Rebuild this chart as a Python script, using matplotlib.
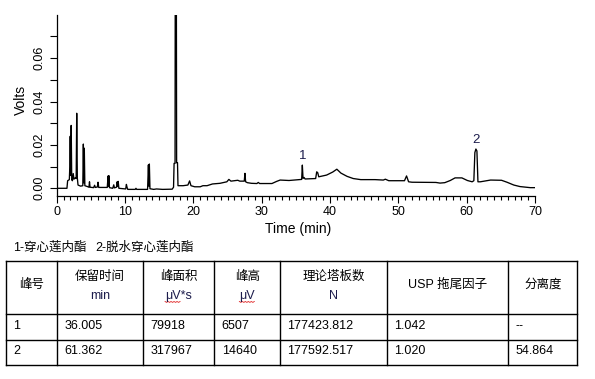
import matplotlib
matplotlib.use("Agg")
import matplotlib.pyplot as plt
from matplotlib.ticker import MultipleLocator, FormatStrFormatter
import numpy as np

plt.rcParams['font.family'] = ['Liberation Sans', 'Noto Sans CJK SC']

# chromatogram trace (min, volts)
time_min = [0.0, 1.5, 1.6, 1.85, 1.92, 1.98, 2.05, 2.12, 2.2, 2.3, 2.42, 2.52, 2.7, 2.85,
            2.93, 3.02, 3.12, 3.5, 3.82, 3.9, 3.97, 4.04, 4.12, 4.5, 4.72, 4.8, 4.88, 5.4,
            5.55, 5.65, 5.95, 6.05, 6.15, 7.4, 7.52, 7.58, 7.64, 7.72, 8.2, 8.35, 8.45,
            8.75, 8.85, 8.95, 9.0, 9.1, 10.1, 10.2, 10.3, 10.4, 11.5, 11.6, 11.7, 13.3,
            13.42, 13.5, 13.56, 13.65, 14.2, 14.6, 15.5, 16.9, 17.1, 17.18, 17.32, 17.42,
            17.55, 17.68, 17.75, 18.5, 19.2, 19.45, 19.65, 20.2, 21.0, 21.4, 22.0, 22.8,
            23.9, 24.9, 25.2, 25.5, 26.0, 26.5, 26.8, 27.45, 27.55, 27.65, 27.9, 28.5,
            29.3, 29.5, 29.7, 31.5, 32.2, 32.7, 34.0, 35.6, 35.85, 35.95, 36.05, 36.2,
            36.35, 37.9, 38.05, 38.2, 38.35, 39.5, 40.4, 41.0, 41.6, 42.5, 43.4, 44.5,
            46.6, 47.8, 48.1, 48.6, 50.9, 51.2, 51.5, 52.0, 55.5, 56.1, 56.8, 57.6, 58.3,
            59.3, 60.1, 60.8, 61.05, 61.2, 61.35, 61.5, 61.65, 62.0, 63.5, 65.1, 65.9,
            66.9, 67.8, 69.3, 70.0]
volts = [0.0, 0.0, 0.0035, 0.004, 0.010, 0.024, 0.006, 0.029, 0.004, 0.0035, 0.0068, 0.0042,
         0.0048, 0.0045, 0.0346, 0.0047, 0.0015, 0.0010, 0.0012, 0.0204, 0.0025, 0.0185,
         0.0012, 0.0008, 0.0005, 0.003, 0.0005, 0.0003, 0.0014, 0.0004, 0.0006, 0.0028,
         0.0004, 0.0004, 0.0057, 0.001, 0.0058, 0.0003, 0.0, 0.0016, 0.0002, 0.0005, 0.003,
         0.0008, 0.0032, 0.0, -0.0003, 0.0018, 0.0004, -0.0005, -0.0005, 0.0, -0.0005,
         -0.0005, 0.0108, 0.001, 0.0112, -0.0002, -0.0005, -0.0003, -0.0005, -0.0004,
         0.0005, 0.0115, 0.0115, 0.3, 0.0118, 0.0118, 0.0012, 0.0012, 0.0015, 0.0034,
         0.0012, 0.0007, 0.0007, 0.0012, 0.0012, 0.002, 0.0023, 0.003, 0.0041, 0.0033,
         0.0035, 0.0037, 0.0033, 0.0033, 0.0069, 0.003, 0.0026, 0.0023, 0.0022, 0.0027,
         0.0022, 0.0022, 0.0032, 0.0038, 0.0036, 0.0040, 0.0041, 0.0107, 0.0046, 0.005,
         0.0043, 0.0045, 0.0076, 0.0072, 0.0053, 0.0061, 0.0075, 0.0088, 0.0070, 0.0055,
         0.0045, 0.0040, 0.0040, 0.0038, 0.0042, 0.0035, 0.0035, 0.0057, 0.0030, 0.0028,
         0.0027, 0.0024, 0.0026, 0.0036, 0.0048, 0.0048, 0.0036, 0.0030, 0.0035, 0.0165,
         0.0181, 0.0172, 0.003, 0.0030, 0.0038, 0.0037, 0.0028, 0.0015, 0.0008, 0.0003,
         0.0003]

peak_labels = ['1', '2']
peak_times = [35.95, 61.35]
peak_tops = [0.0107, 0.0181]

legend_items = ['1-穿心莲内酯', '2-脱水穿心莲内酯']

headers = ['峰号', '保留时间', '峰面积', '峰高', '理论塔板数', 'USP 拖尾因子', '分离度']
units = ['', 'min', 'μV*s', 'μV', 'N', '', '']
rows = [['1', '36.005', '79918', '6507', '177423.812', '1.042', '--'],
        ['2', '61.362', '317967', '14640', '177592.517', '1.020', '54.864']]

W, H = 595, 379
fig = plt.figure(figsize=(W / 100, H / 100), dpi=100)

# plot area in pixels
x0, x1, y0, y1 = 56.7, 535, 15, 196
ax = fig.add_axes([x0 / W, 1 - y1 / H, (x1 - x0) / W, (y1 - y0) / H])
ax.plot(time_min, volts, color='black', lw=0.95)
ax.set_xlim(0, 70)
ax.set_ylim(-0.00355, 0.0799)
for s in ['top', 'right']:
    ax.spines[s].set_visible(False)
for s in ['left', 'bottom']:
    ax.spines[s].set_linewidth(0.9)
ax.xaxis.set_major_locator(MultipleLocator(10))
ax.xaxis.set_minor_locator(MultipleLocator(1))
ax.yaxis.set_major_locator(MultipleLocator(0.02))
ax.yaxis.set_minor_locator(MultipleLocator(0.01))
ax.yaxis.set_major_formatter(FormatStrFormatter('%.2f'))
ax.tick_params(axis='x', which='major', length=5.2, width=0.8, pad=2, labelsize=9)
ax.tick_params(axis='x', which='minor', length=3.2, width=0.8)
ax.tick_params(axis='y', which='both', length=5.2, width=0.8, pad=3, labelsize=9)
ax.tick_params(axis='y', labelrotation=90)
for lab in ax.get_yticklabels():
    lab.set_va('center')

for lab, t, v in zip(peak_labels, peak_times, peak_tops):
    ax.annotate(lab, (t, v), xytext=(0, 2), textcoords='offset points',
                ha='center', va='bottom', fontsize=9.5, color='#1c1c4c')

# overlay in pixel coordinates for labels and the table
ov = fig.add_axes([0, 0, 1, 1])
ov.set_xlim(0, W)
ov.set_ylim(H, 0)
ov.axis('off')
ov.patch.set_visible(False)

ov.text(298, 229, 'Time (min)', ha='center', va='center', fontsize=10)
ov.text(21, 100, 'Volts', ha='center', va='center', rotation=90, fontsize=10)

for item, x in zip(legend_items, [13, 95]):
    ov.text(x, 248, item, ha='left', va='center', fontsize=9)

col_edges = [5.7, 57.3, 142.7, 214.3, 280, 386.7, 508.3, 577.3]
row_edges = [260.7, 314, 340, 365]
for y in row_edges:
    ov.plot([col_edges[0], col_edges[-1]], [y, y], color='black', lw=1.0,
            solid_capstyle='projecting')
for x in col_edges:
    ov.plot([x, x], [row_edges[0], row_edges[-1]], color='black', lw=1.0,
            solid_capstyle='projecting')

for i, (hd, un) in enumerate(zip(headers, units)):
    cx = (col_edges[i] + col_edges[i + 1]) / 2
    if un:
        ov.text(cx, 276.7, hd, ha='center', va='center', fontsize=9)
        t = ov.text(cx, 295.7, un, ha='center', va='center', fontsize=9, color='#1c1c4c')
        if un.startswith('μ'):
            # red spell-check squiggle under the "μV" part of the unit
            fig.canvas.draw()
            bb = t.get_window_extent().transformed(ov.transData.inverted())
            left = min(bb.x0, bb.x1)
            sx = np.arange(left, left + 15.5, 1.5)
            sy = 301.5 + 0.9 * (np.arange(len(sx)) % 2)
            ov.plot(sx, sy, color='#e02020', lw=0.6)
    else:
        ov.text(cx, 285, hd, ha='center', va='center', fontsize=9)

for r, row in enumerate(rows):
    cy = (row_edges[r + 1] + row_edges[r + 2]) / 2 - 1
    for i, val in enumerate(row):
        ov.text(col_edges[i] + 7.5, cy, val, ha='left', va='center', fontsize=9)

fig.savefig('out.png', dpi=100)
